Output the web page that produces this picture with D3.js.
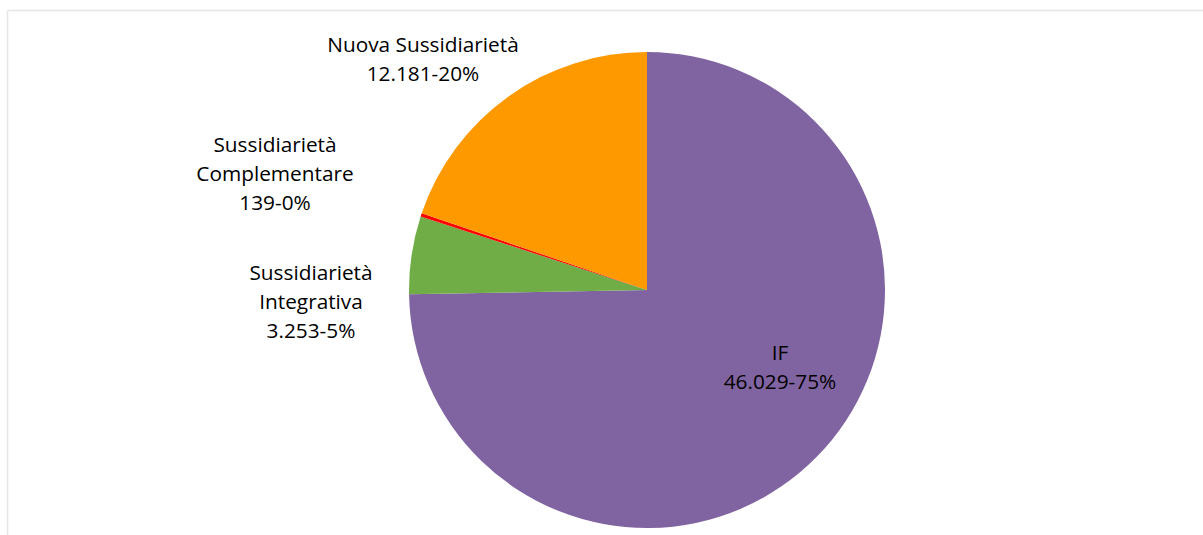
<!DOCTYPE html>
<html>
<head>
<meta charset="utf-8">
<script src="https://cdn.jsdelivr.net/npm/d3@7"></script>
<style>
  body { margin: 0; background: #fff; }
  svg { display: block; }
  .lbl { font-family: "Open Sans", Lato, sans-serif; font-size: 20.8px; fill: #000; }
</style>
</head>
<body>
<script>
var categories = ["IF", "Sussidiarietà Integrativa", "Sussidiarietà Complementare", "Nuova Sussidiarietà"];
var values = [46029, 3253, 139, 12181];
var labelLines = [
    ["IF", "46.029-75%"],
    ["Sussidiarietà", "Integrativa", "3.253-5%"],
    ["Sussidiarietà", "Complementare", "139-0%"],
    ["Nuova Sussidiarietà", "12.181-20%"]
];
var colors = ["#8064a2", "#70ad47", "#ff0000", "#ff9900"];

var width = 1203, height = 535;
var cx = 647, cy = 290, radius = 238;
// label anchor (center x, first baseline) relative to pie center
var labelOffset = [[133, 70], [-336, -10], [-372, -138], [-224, -238]];
var lineH = 29;

var svg = d3.select("body").append("svg")
    .attr("width", width)
    .attr("height", height);

// chart area border (only top and left edges visible)
svg.append("line").attr("x1", 7.5).attr("x2", width).attr("y1", 10.5).attr("y2", 10.5)
    .attr("stroke", "#e6e6e6").attr("stroke-width", 1.5);
svg.append("line").attr("x1", 7.5).attr("x2", 7.5).attr("y1", 10.5).attr("y2", height)
    .attr("stroke", "#e6e6e6").attr("stroke-width", 1.5);

var data = categories.map(function (c, i) {
    return { name: c, value: values[i], color: colors[i], lines: labelLines[i], off: labelOffset[i] };
});

var pie = d3.pie().sort(null).value(function (d) { return d.value; });
var arc = d3.arc().innerRadius(0).outerRadius(radius);

var g = svg.append("g").attr("transform", "translate(" + cx + "," + cy + ")");

g.selectAll("path")
    .data(pie(data))
    .enter().append("path")
    .attr("d", arc)
    .attr("fill", function (d) { return d.data.color; });

var labels = g.selectAll("text")
    .data(data)
    .enter().append("text")
    .attr("class", "lbl")
    .attr("text-anchor", "middle");

labels.each(function (d) {
    var t = d3.select(this);
    d.lines.forEach(function (line, i) {
        t.append("tspan")
            .attr("x", d.off[0])
            .attr("y", d.off[1] + i * lineH)
            .text(line);
    });
});
</script>
</body>
</html>
